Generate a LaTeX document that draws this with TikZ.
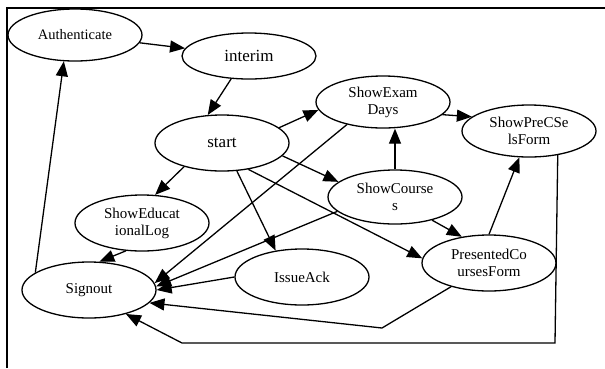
\documentclass[tikz,border=0pt]{standalone}
\usepackage{fontspec}
\setmainfont{Liberation Serif}
\usetikzlibrary{arrows.meta,shapes.geometric}

\begin{document}
\begin{tikzpicture}[x=1pt,y=-1pt,
    state/.style={ellipse,draw,line width=1.3pt,minimum width=134pt,minimum height=54pt,inner sep=0pt,align=center,font=\fontsize{15}{17}\selectfont},
    link/.style={line width=1.3pt,-{Triangle[length=15pt,width=12pt]}}]
    \useasboundingbox (0,0) rectangle (605,368);
    \draw[line width=1.3pt] (7,368) -- (7,8) -- (605,8);
    \node[state,minimum height=52pt,font=\fontsize{14.5}{17}\selectfont] at (75,35) (auth) {Authenticate};
    \node[state,minimum height=46pt,font=\fontsize{17}{19}\selectfont] at (249,56) (interim) {interim};
    \node[state,minimum height=56pt,font=\fontsize{17}{19}\selectfont] at (222,143) (start) {start};
    \node[state,minimum height=52pt] at (383,102) (sed) {ShowExam\\Days};
    \node[state,minimum height=52pt] at (529,131) (spf) {ShowPreCSe\\lsForm};
    \node[state] at (395,197) (sc) {ShowCourse\\s};
    \node[state,minimum height=56pt] at (142,223) (sel) {ShowEducat\\ionalLog};
    \node[state,minimum height=56pt] at (89,290) (so) {Signout};
    \node[state,minimum height=56pt] at (302,277) (ia) {IssueAck};
    \node[state,minimum height=56pt] at (489,263) (pcf) {PresentedCo\\ursesForm};
    \coordinate (p1) at (382,328);
    \coordinate (q1) at (555,343);
    \coordinate (q2) at (182,343);
    \draw[link] (auth) -- (interim);
    \draw[link] (interim.232) -- (start.117);
    \draw[link] (start.15) -- (sed.187);
    \draw[link] (start.212) -- (sel.65);
    \draw[link] (start.298) -- (ia.135);
    \draw[link] (start.348) -- (sc.165);
    \draw[link] (start.315) -- (pcf.176);
    \draw[link] (sed.348) -- (spf.166);
    \draw[link] (sc.north) -- (sed.south -| sc.north);
    \draw[link] (sc.328) -- (pcf.136);
    \draw[link] (pcf.90) -- (spf.250);
    \draw[link] (sed.212) -- (so.6);
    \draw[link] (sc.194) -- (so.3);
    \draw[link] (sel.240) -- (so.70);
    \draw[link] (ia.180) -- (so.0);
    \draw[link] (pcf.212) -- (p1) -- (so.348);
    \draw[link] (spf.320) -- (q1) -- (q2) -- (so.327);
    \draw[link] (so.162) -- (auth.247);
\end{tikzpicture}
\end{document}
